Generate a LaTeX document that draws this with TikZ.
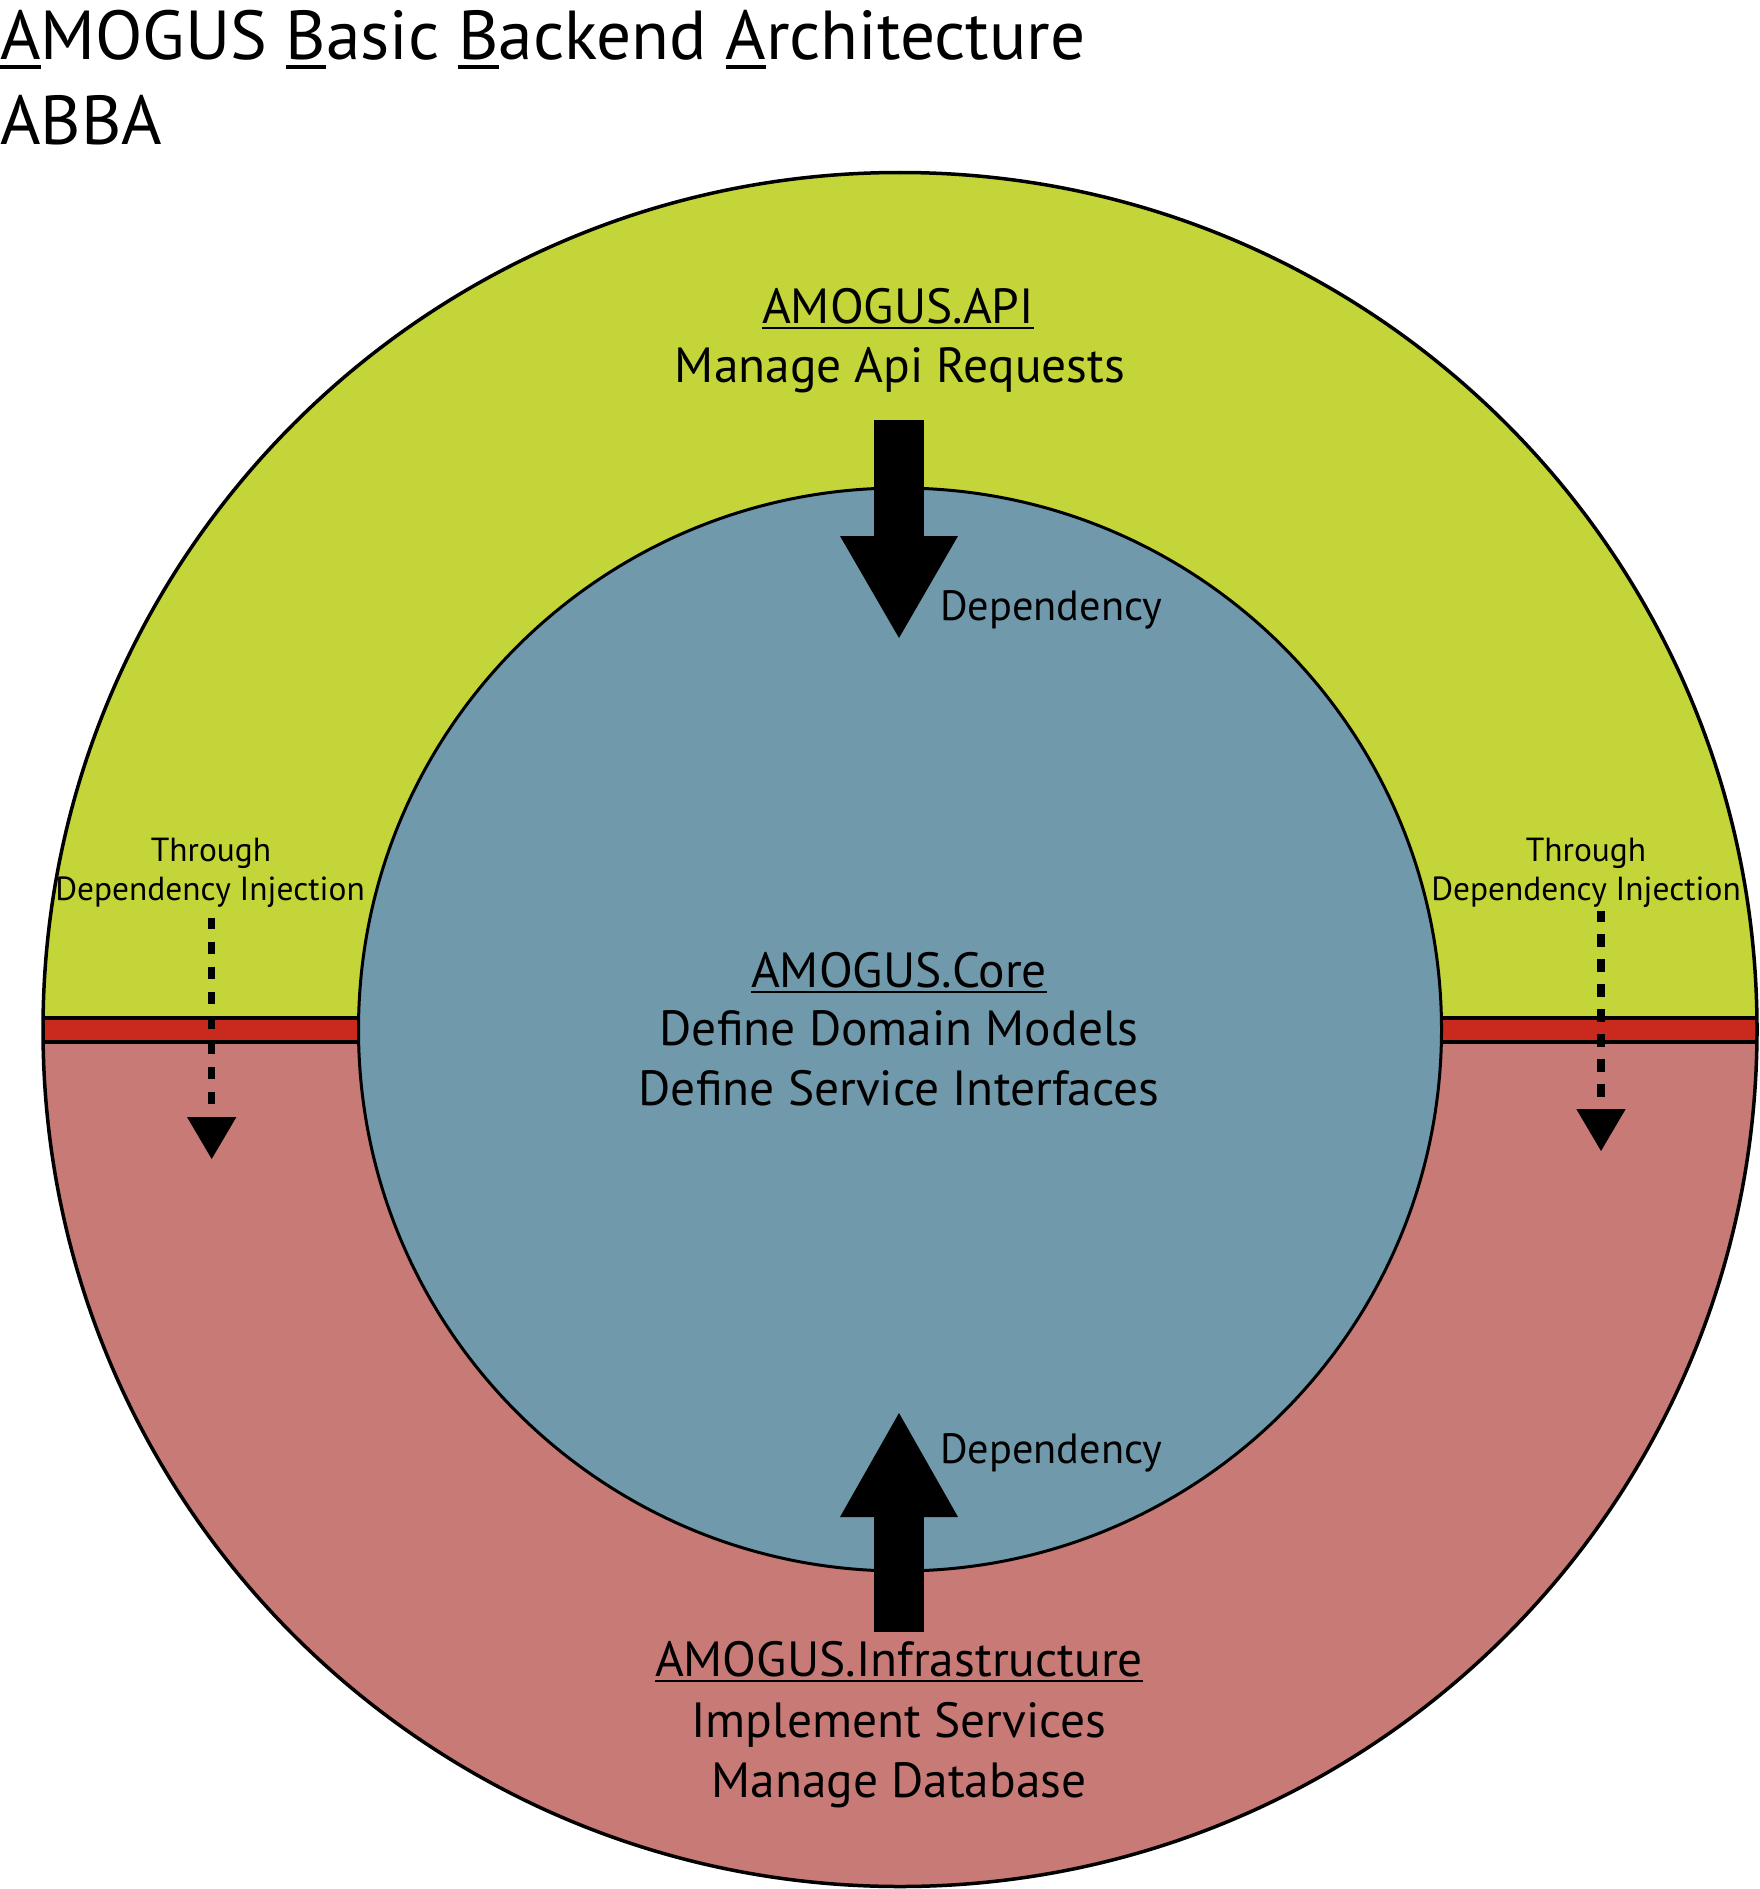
\documentclass[tikz,border=0pt]{standalone}
\usepackage{fontspec}
\setmainfont{PT Sans}
\definecolor{apigreen}{HTML}{C4D539}
\definecolor{coreblue}{HTML}{7099AB}
\definecolor{infrared}{HTML}{C87A76}
\definecolor{bandred}{HTML}{C92A1D}
\newcommand\myul[1]{\setbox0=\hbox{#1}\rlap{\rule[-0.125em]{\wd0}{0.05em}}#1}
\tikzset{
  ringline/.style={line width=3.5pt},
  txt/.style={inner sep=0pt, anchor=base, text=black},
  titlefont/.style={font=\fontsize{69.3}{78}\selectfont},
  headfont/.style={font=\fontsize{49.4}{58}\selectfont},
  depfont/.style={font=\fontsize{42.3}{50}\selectfont},
  difont/.style={font=\fontsize{33.4}{40}\selectfont},
  dishaft/.style={line width=7.3pt, dash pattern=on 12.5pt off 12.5pt, dash phase=1.5pt},
  bigshaft/.style={line width=50pt}
}
\begin{document}
\begin{tikzpicture}[x=1pt,y=-1pt]
\useasboundingbox (0,0) rectangle (1759,1889);
\coordinate (C) at (900,1029.5);
% outer ring with halves and band
\begin{scope}
  \clip (C) circle[radius=857pt];
  \fill[infrared] (0,1030) rectangle (1759,1889);
  \fill[apigreen] (0,0) rectangle (1759,1018);
  \fill[bandred] (0,1018) rectangle (1759,1042);
  \draw[ringline] (0,1018) -- (1759,1018) (0,1042) -- (1759,1042);
\end{scope}
\draw[ringline] (C) circle[radius=857pt];
\draw[line width=3pt, fill=coreblue] (C) circle[radius=541.5pt];

% title
\node[txt, anchor=base west, titlefont] (title) at (0,60) {\myul{A}MOGUS \myul{B}asic \myul{B}ackend \myul{A}rchitecture};
\node[txt, anchor=base west, titlefont] (abba) at (0,145) {ABBA};

% API
\node[txt, headfont] (apiname) at (898,323) {\myul{AMOGUS.API}};
\node[txt, headfont] (apidesc) at (900,382) {Manage Api Requests};

% Core
\node[txt, headfont] (corename) at (899,987) {\myul{AMOGUS.Core}};
\node[txt, headfont] (coredesc1) at (899,1045) {Define Domain Models};
\node[txt, headfont] (coredesc2) at (899,1105) {Define Service Interfaces};

% Infrastructure
\node[txt, headfont] (infname) at (899,1676) {\myul{AMOGUS.Infrastructure}};
\node[txt, headfont] (infdesc1) at (899,1737) {Implement Services};
\node[txt, headfont] (infdesc2) at (899,1797) {Manage Database};

% big dependency arrows
\coordinate (topS) at (899,420);
\coordinate (topB) at (899,537);
\coordinate (topT) at (899,638);
\draw[bigshaft] (topS) -- (topB);
\fill (840,536) -- (958,536) -- (topT) -- cycle;
\node[txt, anchor=base west, depfont] (deptop) at (940,620) {Dependency};

\coordinate (botS) at (899,1632);
\coordinate (botB) at (899,1516);
\coordinate (botT) at (899,1413);
\draw[bigshaft] (botS) -- (botB);
\fill (840,1517) -- (958,1517) -- (botT) -- cycle;
\node[txt, anchor=base west, depfont] (depbot) at (940,1463) {Dependency};

% dependency injection arrows
\node[txt, difont] (lthrough) at (211,861) {Through};
\node[txt, difont] (ldi) at (210,900) {Dependency Injection};
\coordinate (lS) at (211.7,918);
\coordinate (lB) at (211.7,1117);
\coordinate (lT) at (211.7,1159);
\draw[dishaft] (lS) -- (lB);
\fill (187,1117) -- (236.4,1117) -- (lT) -- cycle;

\node[txt, difont] (rthrough) at (1586,861) {Through};
\node[txt, difont] (rdi) at (1586,900) {Dependency Injection};
\coordinate (rS) at (1601,910.7);
\coordinate (rB) at (1601,1109);
\coordinate (rT) at (1601,1151);
\draw[dishaft] (rS) -- (rB);
\fill (1576.3,1109) -- (1625.7,1109) -- (rT) -- cycle;
\end{tikzpicture}
\end{document}
